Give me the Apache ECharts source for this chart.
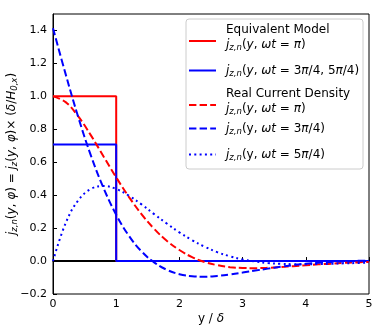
<!DOCTYPE html>
<html>
<head>
<meta charset="utf-8">
<script src="https://cdn.jsdelivr.net/npm/echarts@6/dist/echarts.min.js"></script>
<style>
html, body { margin: 0; padding: 0; background: #fff; }
#container { width: 384px; height: 330px; }
</style>
</head>
<body>
<div id="container"></div>
<script>
// y / delta sample positions (real current density curves)
var yPos = [0, 0.2, 0.4, 0.6, 0.8, 1.0, 1.2, 1.4, 1.6, 1.8, 2.0, 2.2, 2.4,
            2.6, 2.8, 3.0, 3.2, 3.4, 3.6, 3.8, 4.0, 4.2, 4.4, 4.6, 4.8, 5.0];
// real current density, wt = pi
var realPi = [1.000, 0.965, 0.878, 0.763, 0.635, 0.508, 0.390, 0.285, 0.196, 0.123, 0.067, 0.024, -0.006,
              -0.025, -0.037, -0.042, -0.043, -0.041, -0.037, -0.031, -0.026, -0.020, -0.016, -0.011, -0.008, -0.005];
// real current density, wt = 3pi/4
var real3q = [1.414, 1.135, 0.873, 0.640, 0.443, 0.281, 0.154, 0.059, -0.008, -0.053, -0.080, -0.092, -0.095,
              -0.090, -0.081, -0.070, -0.058, -0.046, -0.035, -0.025, -0.017, -0.010, -0.005, -0.002, 0.001, 0.003];
// real current density, wt = 5pi/4
var real5q = [0.000, 0.230, 0.369, 0.438, 0.456, 0.438, 0.397, 0.344, 0.285, 0.228, 0.174, 0.127, 0.087,
              0.054, 0.029, 0.010, -0.003, -0.012, -0.017, -0.019, -0.020, -0.018, -0.017, -0.014, -0.012, -0.009];
// equivalent model (step profiles)
var eqX = [0, 1, 1, 5];
var eqPi = [1, 1, 0, 0];
var eq35 = [0.707, 0.707, 0, 0];
var zeroX = [0, 5];
var zeroY = [0, 0];

function pairs(xs, ys) {
    var out = [];
    for (var i = 0; i < xs.length; i++) out.push([xs[i], ys[i]]);
    return out;
}

var FONT = 'DejaVu Sans';
var rich = {
    i: { fontFamily: FONT, fontStyle: 'italic', fontSize: 12, lineHeight: 15, color: '#000' },
    s: { fontFamily: FONT, fontStyle: 'italic', fontSize: 8.5, lineHeight: 9, verticalAlign: 'bottom', color: '#000' }
};

// legend texts (rich)
var legendText = {
    'eqPi': 'Equivalent Model\n{i|j}{s|z,n}({i|y}, {i|ωt} = {i|π})',
    'eq35': '{i|j}{s|z,n}({i|y}, {i|ωt} = 3{i|π}/4, 5{i|π}/4)',
    'realPi': 'Real Current Density\n{i|j}{s|z,n}({i|y}, {i|ωt} = {i|π})',
    'real3q': '{i|j}{s|z,n}(y, {i|ωt} = 3{i|π}/4)',
    'real5q': '{i|j}{s|z,n}(y, {i|ωt} = 5{i|π}/4)'
};

function legendItem(name, top, twoLine) {
    return {
        data: [name],
        orient: 'vertical',
        left: 188,
        top: top,
        padding: 0,
        itemWidth: 27,
        itemHeight: 12,
        selectedMode: false,
        z: 10,
        itemStyle: { opacity: 0 },
        formatter: function (n) { return legendText[n]; },
        textStyle: {
            fontFamily: FONT, fontSize: 12, color: '#000', lineHeight: 15,
            padding: twoLine ? [0, 0, 8, 5] : [0, 0, 0, 5],
            rich: rich
        }
    };
}

var myChart = echarts.init(document.getElementById('container'));
var option = {
    animation: false,
    backgroundColor: '#fff',
    grid: {
        left: 53, right: 15, top: 14, bottom: 36,
        outerBoundsMode: 'none',
        show: true, borderColor: '#000', borderWidth: 1
    },
    graphic: [{
        type: 'rect', z: 5,
        shape: { x: 186, y: 19, width: 177, height: 150, r: 3 },
        style: { fill: 'rgba(255,255,255,0.8)', stroke: '#cccccc', lineWidth: 1 }
    }],
    legend: [
        legendItem('eqPi', 22, true),
        legendItem('eq35', 63, false),
        legendItem('realPi', 86, true),
        legendItem('real3q', 121, false),
        legendItem('real5q', 147, false)
    ],
    xAxis: {
        type: 'value', min: 0, max: 5, interval: 1,
        name: 'y / {i|δ}',
        nameLocation: 'middle', nameGap: 17,
        nameMoveOverlap: false,
        nameTextStyle: { fontFamily: FONT, fontSize: 12, color: '#000', rich: rich },
        axisLine: { show: true, lineStyle: { color: '#000', width: 1 } },
        axisTick: { show: true, inside: true, length: 4, lineStyle: { color: '#000' } },
        axisLabel: { fontFamily: FONT, fontSize: 11, color: '#000', margin: 5 },
        splitLine: { show: false }
    },
    yAxis: {
        type: 'value', min: -0.2, max: 1.5, interval: 0.2,
        name: '{i|j}{s|z,n}({i|y}, {i|φ}) = {i|j}{s|z}({i|y}, {i|φ})× ({i|δ}/{i|H}{s|0,x})',
        nameLocation: 'middle', nameGap: 34,
        nameMoveOverlap: false,
        nameTextStyle: { fontFamily: FONT, fontSize: 12, color: '#000', rich: rich },
        axisLine: { show: true, lineStyle: { color: '#000', width: 1 } },
        axisTick: { show: true, inside: true, length: 4, lineStyle: { color: '#000' } },
        axisLabel: {
            fontFamily: FONT, fontSize: 11, color: '#000', margin: 6, showMaxLabel: false,
            formatter: function (v) { return v < 0 ? '\u2212' + Math.abs(v).toFixed(1) : v.toFixed(1); }
        },
        splitLine: { show: false }
    },
    series: [
        {
            name: 'zero', type: 'line', symbol: 'none', z: 1,
            data: pairs(zeroX, zeroY),
            lineStyle: { color: '#000', width: 2 }
        },
        {
            name: 'eqPi', type: 'line', symbol: 'none', z: 2,
            data: pairs(eqX, eqPi),
            lineStyle: { color: '#ff0000', width: 2 }, itemStyle: { color: '#ff0000' }
        },
        {
            name: 'eq35', type: 'line', symbol: 'none', z: 3,
            data: pairs(eqX, eq35),
            lineStyle: { color: '#0000ff', width: 2 }, itemStyle: { color: '#0000ff' }
        },
        {
            name: 'realPi', type: 'line', symbol: 'none', smooth: 0.4, z: 4,
            data: pairs(yPos, realPi),
            lineStyle: { color: '#ff0000', width: 2, type: [7.4, 3.2] }, itemStyle: { color: '#ff0000' }
        },
        {
            name: 'real3q', type: 'line', symbol: 'none', smooth: 0.4, z: 4,
            data: pairs(yPos, real3q),
            lineStyle: { color: '#0000ff', width: 2, type: [7.4, 3.2] }, itemStyle: { color: '#0000ff' }
        },
        {
            name: 'real5q', type: 'line', symbol: 'none', smooth: 0.4, z: 4,
            data: pairs(yPos, real5q),
            lineStyle: { color: '#0000ff', width: 2, type: [2, 3.3] }, itemStyle: { color: '#0000ff' }
        }
    ]
};
myChart.setOption(option);
</script>
</body>
</html>
